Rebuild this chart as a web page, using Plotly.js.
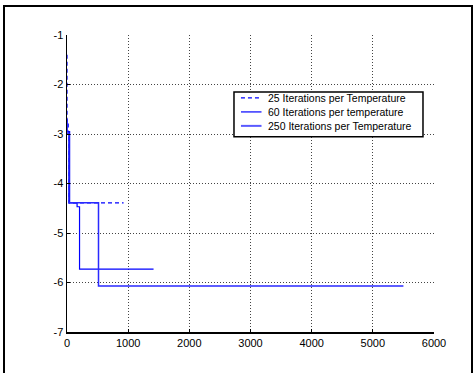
<!DOCTYPE html>
<html>
<head>
<meta charset="utf-8">
<script src="https://cdn.plot.ly/plotly-3.0.1.min.js"></script>
<style>
html,body{margin:0;padding:0;background:#fff;}
#wrap{position:relative;width:474px;height:373px;overflow:hidden;}
#chart{position:absolute;left:0;top:0;width:474px;height:373px;}
#frame{position:absolute;left:3px;top:5px;width:466px;height:400px;border:2px solid #000;pointer-events:none;}
</style>
</head>
<body>
<div id="wrap"><div id="chart"></div><div id="frame"></div></div>
<script>
// Step-function data (iteration, value)
var iter25 = [0, 0, 20, 30, 925];
var val25  = [-1.4, -2.75, -2.95, -4.39, -4.39];
var iter60 = [0, 0, 43, 165, 205, 1415];
var val60  = [-2.7, -2.95, -4.39, -4.47, -5.73, -5.73];
var iter250 = [0, 0, 30, 515, 5500];
var val250  = [-2.7, -3.0, -4.39, -6.07, -6.07];
var names = ['25 Iterations per Temperature', '60 Iterations per temperature', '250 Iterations per Temperature'];
var xTicks = [0, 1000, 2000, 3000, 4000, 5000, 6000];
var yTicks = [-7, -6, -5, -4, -3, -2, -1];

var styles = [
  {shape: 'hv', color: '#0000ff', width: 1.2, dash: '4px,3px'},
  {shape: 'hv', color: '#0000ff', width: 1.2},
  {shape: 'hv', color: '#2a2aff', width: 1.5}
];
var xs = [iter25, iter60, iter250], ys = [val25, val60, val250];
var traces = names.map(function (n, i) {
  return {x: xs[i], y: ys[i], name: n, mode: 'lines', line: styles[i], showlegend: false};
});

var font = {family: 'Liberation Sans, Arial, sans-serif', size: 11, color: '#000'};

// Hand-drawn legend (MATLAB-style compact)
var legX0 = 0.455, legX1 = 0.970, legY1 = 0.808, legY0 = 0.657;
var rowY = [0.788, 0.741, 0.694];
var legendColors = ['#0000ff', '#0000ff', '#5a5aff'];
var legendWidths = [1.2, 1.2, 2];
var shapes = [{type: 'rect', xref: 'paper', yref: 'paper', x0: legX0, x1: legX1, y0: legY0, y1: legY1,
               line: {color: '#000', width: 1.5}, fillcolor: '#fff', layer: 'above'}];
var annotations = [];
names.forEach(function (n, i) {
  shapes.push({type: 'line', xref: 'paper', yref: 'paper', x0: 0.474, x1: 0.530, y0: rowY[i], y1: rowY[i],
               line: {color: legendColors[i], width: legendWidths[i], dash: i === 0 ? '4px,3px' : 'solid'}, layer: 'above'});
  annotations.push({xref: 'paper', yref: 'paper', x: 0.542, y: rowY[i], xanchor: 'left', yanchor: 'middle',
                    text: n, showarrow: false, font: {family: font.family, size: 10.5, color: '#000'}});
});

var layout = {
  width: 474, height: 373,
  margin: {l: 67, r: 40, t: 35, b: 41},
  paper_bgcolor: '#fff', plot_bgcolor: '#fff',
  font: font,
  showlegend: false,
  shapes: shapes,
  annotations: annotations,
  xaxis: {range: [0, 6000], tickvals: xTicks, ticktext: xTicks.map(String), showgrid: true,
          gridcolor: '#444', griddash: '1px,2px', gridwidth: 1, zeroline: false,
          showline: true, linecolor: '#000', linewidth: 1.5, ticks: 'inside', ticklen: 3,
          tickcolor: '#000', tickfont: font, fixedrange: true},
  yaxis: {range: [-7, -1], tickvals: yTicks, ticktext: yTicks.map(String), showgrid: true,
          gridcolor: '#444', griddash: '1px,2px', gridwidth: 1, zeroline: false,
          showline: true, linecolor: '#000', linewidth: 1.5, ticks: 'inside', ticklen: 3,
          tickcolor: '#000', tickfont: font, fixedrange: true}
};
Plotly.newPlot('chart', traces, layout, {staticPlot: true, displayModeBar: false});
</script>
</body>
</html>
